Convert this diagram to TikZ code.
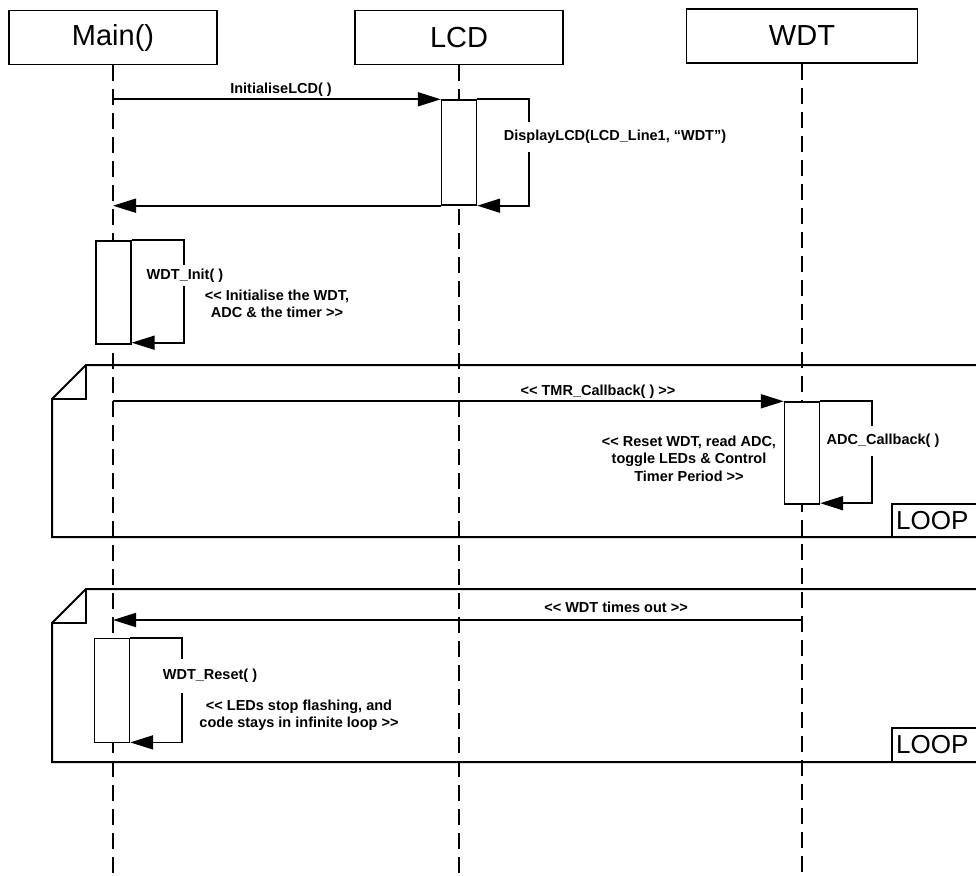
\documentclass[tikz,border=0pt]{standalone}
\usepackage{fontspec}
\setmainfont{Liberation Sans}
\usetikzlibrary{arrows.meta}
\begin{document}
\begin{tikzpicture}[x=1pt,y=-1pt,
  head/.style={draw, line width=1.4pt, minimum width=208pt, minimum height=54pt, inner sep=0pt, font=\fontsize{29}{34}\selectfont},
  act/.style={draw, fill=white, line width=1.4pt, minimum width=35pt, inner sep=0pt},
  lifeline/.style={line width=1.2pt, dash pattern=on 16pt off 8pt},
  msg/.style={line width=1.8pt, -{Triangle[length=23pt,width=14pt]}},
  lbl/.style={font=\fontsize{14.5}{17.3}\selectfont\bfseries, inner sep=2pt, align=center},
  cover/.style={lbl, fill=white},
  frag/.style={line width=2pt},
  looptext/.style={font=\fontsize{26}{30}\selectfont, inner sep=2pt, anchor=west}]
\useasboundingbox (0,0) rectangle (976,875);
\clip (0,0) rectangle (976,875);
\fill[white] (0,0) rectangle (976,875);

% heads
\node[head] (main) at (113,37.5) {Main()};
\node[head] (lcd) at (459,37.5) {LCD};
\node[head, minimum width=231pt] (wdt) at (802,36) {WDT};
\coordinate (bot) at (0,875);

% lifelines
\draw[lifeline] (main.south) -- (main |- bot);
\draw[lifeline] (lcd.south) -- (lcd |- bot);
\draw[lifeline] (wdt.south) -- (wdt |- bot);

% fragments
\draw[frag] (990,365) -- (86,365) -- (52,399) -- (52,537) -- (990,537);
\draw[frag] (86,365) -- (86,399) -- (52,399);
\draw[frag] (892,537) -- (892,504) -- (990,504);
\node[looptext] (loop1) at (894,521) {LOOP};

\draw[frag] (990,589) -- (86,589) -- (52,623) -- (52,762) -- (990,762);
\draw[frag] (86,589) -- (86,623) -- (52,623);
\draw[frag] (892,762) -- (892,728) -- (990,728);
\node[looptext] (loop2) at (894,745) {LOOP};

% activations
\node[act, minimum height=105pt] (a1) at (459,152.5) {};
\node[act, minimum height=103pt] (a2) at (113.5,292.5) {};
\node[act, minimum height=102pt] (a3) at (802,453) {};
\node[act, minimum height=104pt] (a4) at (112,690.7) {};

% messages
\draw[msg] (main |- a1.north) -- (a1.north west);
\node[lbl] (m1) at (281,90) {InitialiseLCD( )};
\draw[msg] (a1.north east) -- ++(51.5,0) |- (a1.south east);
\node[cover, inner ysep=8pt] (m2) at (615,137) {DisplayLCD(LCD\_Line1, “WDT”)};
\draw[msg] (a1.south west) -- (main |- a1.south);

\draw[msg] (a2.north east) -- ++(52,0) |- ([yshift=2pt]a2.south east);
\node[cover, inner ysep=4pt] (m3) at (185,275.7) {WDT\_Init( )};
\node[lbl] (m3b) at (277,303.7) {\fontsize{14.5}{16}\selectfont\bfseries {<}{<} Initialise the WDT,\\ ADC \& the timer {>}{>}};

\draw[msg] (main |- a3.north) -- (a3.north west);
\node[lbl] (m4) at (598,391.7) {{<}{<} TMR\_Callback( ) {>}{>}};
\draw[msg] (a3.north east) -- ++(52,0) |- ([yshift=1.5pt]a3.south east);
\node[cover, inner ysep=8pt] (m5) at (883,441) {ADC\_Callback( )};
\node[lbl] (m5b) at (689,458.7) {{<}{<} Reset WDT, read ADC,\\ toggle LEDs \& Control\\ Timer Period {>}{>}};

\coordinate (tout) at (802,620);
\draw[msg] (tout) -- (main |- tout);
\node[lbl] (m6) at (616,607.7) {{<}{<} WDT times out {>}{>}};
\draw[msg] (a4.north east) -- ++(52,0) |- ([yshift=1pt]a4.south east);
\node[cover, inner ysep=10pt] (m7) at (210,676) {WDT\_Reset( )};
\node[lbl] (m7b) at (299,715.3) {{<}{<} LEDs stop flashing, and\\ code stays in infinite loop {>}{>}};
\end{tikzpicture}
\end{document}
